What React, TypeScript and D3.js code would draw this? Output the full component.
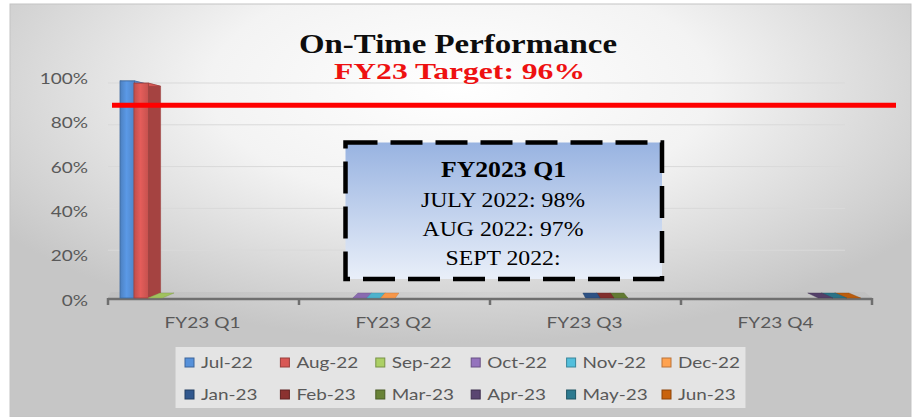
import React from "react";
import * as d3 from "d3";

// ---------- data ----------
const quarters = ["FY23 Q1", "FY23 Q2", "FY23 Q3", "FY23 Q4"];
const months = [
  "Jul-22", "Aug-22", "Sep-22", "Oct-22", "Nov-22", "Dec-22",
  "Jan-23", "Feb-23", "Mar-23", "Apr-23", "May-23", "Jun-23",
];
const monthQuarter = [
  "FY23 Q1", "FY23 Q1", "FY23 Q1", "FY23 Q2", "FY23 Q2", "FY23 Q2",
  "FY23 Q3", "FY23 Q3", "FY23 Q3", "FY23 Q4", "FY23 Q4", "FY23 Q4",
];
const monthValues = [98, 97, 0, 0, 0, 0, 0, 0, 0, 0, 0, 0];
const monthColors = [
  "#5087cb", "#c9524f", "#a0c25e", "#8a6bb0", "#4db2cd", "#f7974a",
  "#2e5284", "#812f2d", "#627a33", "#544069", "#2a7286", "#bb5c0c",
];
const yTicks = [0, 20, 40, 60, 80, 100];
const chartTitle = "On-Time Performance";
const chartSubtitle = "FY23 Target: 96%";
// level (on the value axis) where the hand-drawn target line sits
const targetLineLevel = 87;
const noteTitle = "FY2023 Q1";
const noteLines = ["JULY 2022: 98%", "AUG 2022: 97%", "SEPT 2022:"];

// ---------- layout ----------
const W = 916;
const H = 417;
const SANS = "Lato, 'Open Sans', sans-serif";
const SERIF = "'Liberation Serif', 'Times New Roman', serif";
const AXIS_TEXT = "#595959";

const x0 = d3.scaleBand<string>().domain(quarters).range([108, 872]);
const x1 = d3.scaleBand<string>().domain(months).range([12, 179]);
const yF = d3.scaleLinear().domain([0, 100]).range([298, 76.5]); // front plane
const yB = d3.scaleLinear().domain([0, 100]).range([292, 83]); // back wall

// 3D depth offsets (perspective approximation)
const ddx = (x: number) => 12 - 0.0336 * (x - 150);
const ddy = (y: number) => 3 - 0.0377 * (y - 86);

const pts = (p: [number, number][]) => p.map((d) => d.join(",")).join(" ");

function SText(props: any) {
  const { x, y, sx, anchor, size, fill, weight, family, children } = props;
  return (
    <g transform={`translate(${x},${y}) scale(${sx},1)`}>
      <text
        x={0}
        y={0}
        textAnchor={anchor || "start"}
        fontSize={size}
        fill={fill}
        fontWeight={weight || "normal"}
        fontFamily={family || SANS}
      >
        {children}
      </text>
    </g>
  );
}

export default function App() {
  const bw = x1.bandwidth() * 1.05;
  const bars = months.map((m, i) => {
    const xs = (x0(monthQuarter[i]) as number) + (x1(m) as number);
    return { m, i, x0: xs, x1: xs + bw, v: monthValues[i], c: monthColors[i] };
  });
  const sorted = [...bars].sort((a, b) => {
    const da = ddx(a.x0);
    const db = ddx(b.x0);
    if (da > 0 && db > 0) return a.x0 - b.x0;
    if (da <= 0 && db <= 0) return b.x0 - a.x0;
    return 0;
  });

  const legendCol = d3.scaleLinear().domain([0, 5]).range([185, 662]);
  const legendRow = [358, 390];

  const floorY0 = yF(0);
  const floorBack = floorY0 + ddy(floorY0) - 1;

  return (
    <svg
      width={W}
      height={H}
      style={{ position: "absolute", left: 0, top: 0, display: "block" }}
    >
      <defs>
        <radialGradient id="bg" cx="0.5" cy="0.2" r="0.62">
          <stop offset="0" stopColor="#ffffff" />
          <stop offset="0.45" stopColor="#f3f3f3" />
          <stop offset="1" stopColor="#c6c6c6" />
        </radialGradient>
        <linearGradient id="note" x1="0" y1="0" x2="0" y2="1">
          <stop offset="0" stopColor="#98b3e1" />
          <stop offset="1" stopColor="#e9eff9" />
        </linearGradient>
        <linearGradient id="floor" x1="0" y1="0" x2="1" y2="0">
          <stop offset="0" stopColor="#c0c0c0" />
          <stop offset="0.5" stopColor="#d2d2d2" />
          <stop offset="1" stopColor="#c0c0c0" />
        </linearGradient>
        {bars.map((b) => {
          const c = d3.color(b.c)!;
          return (
            <linearGradient key={b.m} id={`bar${b.i}`} x1="0" y1="0" x2="1" y2="0">
              <stop offset="0" stopColor={c.darker(0.15).formatHex()} />
              <stop offset="0.45" stopColor={c.brighter(0.35).formatHex()} />
              <stop offset="1" stopColor={c.darker(0.05).formatHex()} />
            </linearGradient>
          );
        })}
      </defs>

      {/* chart area background */}
      <rect x={10} y={4} width={901} height={413} fill="url(#bg)" stroke="#c3c3c3" strokeWidth={1} />

      {/* back wall gridlines */}
      {yTicks.filter((t) => t > 0).map((t) => (
        <line key={t} x1={108} x2={845} y1={yB(t)} y2={yB(t)} stroke="#d9d9d9" strokeWidth={1} />
      ))}

      {/* floor */}
      <polygon
        points={pts([
          [108, floorY0],
          [872, floorY0],
          [872 + ddx(872) * 0.6, floorBack],
          [108 + ddx(108) * 0.2, floorBack],
        ])}
        fill="url(#floor)"
      />

      {/* x axis */}
      <line x1={108} x2={872} y1={299} y2={299} stroke="#6f6f6f" strokeWidth={2.5} />
      {[...quarters.map((q) => x0(q) as number), 872].map((x, i) => (
        <line key={i} x1={x} x2={x} y1={298} y2={305} stroke="#6f6f6f" strokeWidth={2.5} />
      ))}

      {/* bars */}
      {sorted.map((b) => {
        const c = d3.color(b.c)!;
        const yt = yF(b.v);
        const yb = yF(0);
        const edge = c.darker(0.7).formatHex();
        const top: [number, number][] = [
          [b.x0, yt],
          [b.x1, yt],
          [b.x1 + ddx(b.x1), yt + ddy(yt)],
          [b.x0 + ddx(b.x0), yt + ddy(yt)],
        ];
        if (b.v === 0) {
          return <polygon key={b.m} points={pts(top)} fill={c.formatHex()} stroke={edge} strokeWidth={0.4} />;
        }
        const right = ddx(b.x1) > 0;
        const sx = right ? b.x1 : b.x0;
        const side: [number, number][] = [
          [sx, yt],
          [sx + ddx(sx), yt + ddy(yt)],
          [sx + ddx(sx), yb + ddy(yb)],
          [sx, yb],
        ];
        return (
          <g key={b.m}>
            <polygon points={pts(side)} fill={c.darker(0.55).formatHex()} stroke={edge} strokeWidth={0.6} />
            <polygon points={pts(top)} fill={c.brighter(0.25).formatHex()} stroke={edge} strokeWidth={0.6} />
            <rect x={b.x0} y={yt} width={b.x1 - b.x0} height={yb - yt} fill={`url(#bar${b.i})`} stroke={edge} strokeWidth={0.8} />
          </g>
        );
      })}

      {/* y axis labels */}
      {yTicks.map((t) => (
        <SText key={t} x={88} y={yF(t) + 7.5} sx={1.27} anchor="end" size={15} fill={AXIS_TEXT}>
          {`${t}%`}
        </SText>
      ))}

      {/* category labels */}
      {quarters.map((q) => (
        <SText key={q} x={(x0(q) as number) + x0.bandwidth() / 2 - 1} y={328} sx={1.27} anchor="middle" size={15} fill={AXIS_TEXT}>
          {q}
        </SText>
      ))}

      {/* target line */}
      <line x1={112} x2={896} y1={yF(targetLineLevel)} y2={yF(targetLineLevel)} stroke="#ff0000" strokeWidth={5} />

      {/* title */}
      <text x={458} y={53} textAnchor="middle" fontFamily={SERIF} fontWeight="bold" fontSize={27} fill="#0d0d0d" textLength={318} lengthAdjust="spacingAndGlyphs">
        {chartTitle}
      </text>
      <text x={459.5} y={79} textAnchor="middle" fontFamily={SERIF} fontWeight="bold" fontSize={23} fill="#ee1111" textLength={251} lengthAdjust="spacingAndGlyphs">
        {chartSubtitle}
      </text>

      {/* note box */}
      <rect x={345.5} y={142.5} width={316.5} height={136.5} fill="url(#note)" stroke="#000" strokeWidth={4.5} strokeDasharray="32 13" />
      <SText x={503.5} y={176.7} sx={1.12} anchor="middle" family={SERIF} weight="bold" size={23} fill="#000">
        {noteTitle}
      </SText>
      {noteLines.map((l, i) => (
        <SText key={l} x={503} y={207.3 + i * 28.8} sx={1.08} anchor="middle" family={SERIF} size={22} fill="#000">
          {l}
        </SText>
      ))}

      {/* legend */}
      <rect x={175.5} y={347} width={570} height={61} fill="#eeeeee" fillOpacity={0.75} />
      {months.map((m, i) => {
        const col = i % 6;
        const row = Math.floor(i / 6);
        const lx = legendCol(col);
        const ly = legendRow[row];
        const c = d3.color(monthColors[i])!;
        return (
          <g key={m}>
            <rect x={lx} y={ly} width={9} height={9} fill={c.brighter(0.2).formatHex()} stroke={c.darker(0.8).formatHex()} strokeWidth={1} />
            <SText x={lx + 16} y={ly + 10} sx={1.22} size={15.5} fill={AXIS_TEXT}>
              {m}
            </SText>
          </g>
        );
      })}
    </svg>
  );
}
